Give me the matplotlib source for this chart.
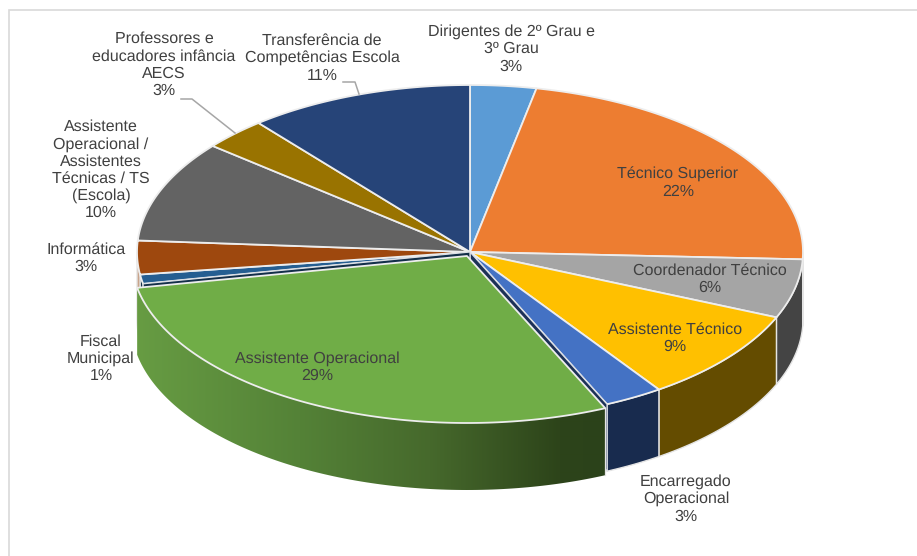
import numpy as np
import matplotlib
matplotlib.use("Agg")
import matplotlib.pyplot as plt
from matplotlib.patches import Polygon, Rectangle
from matplotlib.colors import to_rgb

plt.rcParams['font.family'] = ['Liberation Sans', 'DejaVu Sans']
plt.rcParams['text.hinting'] = 'no_hinting'

categories = ["Dirigentes de 2º Grau e\n3º Grau", "Técnico Superior", "Coordenador Técnico",
              "Assistente Técnico", "Encarregado\nOperacional", "Assistente Operacional",
              "Fiscal\nMunicipal", "Informática",
              "Assistente\nOperacional /\nAssistentes\nTécnicas / TS\n(Escola)",
              "Professores e\neducadores infância\nAECS", "Transferência de\nCompetências Escola"]
values = [3.2, 22.5, 5.7, 9.0, 2.85, 28.7, 0.9, 3.25, 9.85, 3.1, 10.95]
top_colors = ["#5B9BD5", "#ED7D31", "#A5A5A5", "#FFC000", "#4472C4", "#70AD47",
              "#255E91", "#9E480E", "#636363", "#997300", "#264478"]
side_colors = ["#2E4E6B", "#773F19", "#444444", "#644C00", "#182B4E", "#3A5A24",
               "#132F49", "#C9A48B", "#333333", "#4D3A00", "#131F3C"]
label_xy = [(511, 49), (678, 183), (710, 279), (675, 338), (686, 499), (317, 367),
            (101, 359), (86, 258), (101, 170), (164, 65), (322, 58)]

cx, cy, rx, ry, depth = 470, 252, 333, 167, 67
green = 5  # the slice pulled out of the pie
green_ox, green_oy, green_grow = -3, 4, 3

fig = plt.figure(figsize=(9.17, 5.56), dpi=100)
ax = fig.add_axes([0, 0, 1, 1])
ax.axis('off')
ax.add_patch(Rectangle((9, 10), 1000, 1000, fc='white', ec='#D9D9D9', lw=1.2))

angles = 2 * np.pi * np.cumsum([0] + values) / sum(values)


def rim(a0, a1, ox=0, oy=0, grow=0, n=120):
    t = np.linspace(a0, a1, n)
    return cx + ox + (rx + grow) * np.sin(t), cy + oy - ry * np.cos(t)


def wall_points(i, ox=0, oy=0, grow=0):
    # only the part of the wall facing the viewer is visible
    s0, s1 = max(angles[i], np.pi / 2), min(angles[i + 1], 3 * np.pi / 2)
    if s1 <= s0:
        return None
    x, y = rim(s0, s1, ox, oy, grow)
    return np.r_[np.c_[x, y], np.c_[x, y + depth][::-1]]


def draw_top(i, z, ox=0, oy=0, grow=0):
    x, y = rim(angles[i], angles[i + 1], ox, oy, grow)
    pts = np.r_[[[cx + ox, cy + oy]], np.c_[x, y]]
    ax.add_patch(Polygon(pts, fc=top_colors[i], ec='#EDEDED', lw=1.3, joinstyle='round', zorder=z))


for i in range(len(values)):
    if i == green:
        continue
    wall = wall_points(i)
    if wall is not None:
        ax.add_patch(Polygon(wall, fc=side_colors[i], ec='#E4E4E4', lw=1.0, zorder=2))
    draw_top(i, 3)

# cut faces left open next to the pulled-out slice
for a, col in [(angles[green], "#1C3157"), (angles[green + 1], "#132F49")]:
    px, py = cx + rx * np.sin(a), cy - ry * np.cos(a)
    face = [[cx, cy], [px, py], [px, py + depth], [cx, cy + depth]]
    ax.add_patch(Polygon(face, fc=col, ec='#DDE0E6', lw=0.9, zorder=4))

# green wall, shaded along its length
wall = wall_points(green, green_ox, green_oy, green_grow)
clip = Polygon(wall, fc='none', ec='none', zorder=5)
ax.add_patch(clip)
stops_x = [136, 300, 430, 560, 606]
stops_c = np.array([to_rgb(c) for c in ["#679C43", "#548237", "#46692C", "#2D441A", "#2B421A"]])
xs = np.linspace(136, 606, 470)
grad = np.stack([np.interp(xs, stops_x, stops_c[:, k]) for k in range(3)], axis=-1)[np.newaxis, :, :]
im = ax.imshow(grad, extent=(136, 606, 500, 270), aspect='auto', zorder=5, interpolation='bilinear')
im.set_clip_path(clip)
draw_top(green, 6, green_ox, green_oy, green_grow)
ax.plot([wall[0, 0]] * 2, [wall[0, 1], wall[0, 1] + depth], color='#E4E4E4', lw=0.9, zorder=5)

ax.set_xlim(0, 917)
ax.set_ylim(556, 0)

for name, val, (lx, ly) in zip(categories, values, label_xy):
    ax.text(lx, ly, f"{name}\n{val:.0f}%", ha='center', va='center', fontsize=11.5,
            color='#404040', linespacing=1.2, zorder=8)

# leader lines
ax.plot([181, 192, 235], [99, 99, 133], color='#A6A6A6', lw=1.1, zorder=7)
ax.plot([343, 355, 359], [82, 82, 94], color='#A6A6A6', lw=1.1, zorder=7)

fig.savefig("out.png", dpi=100)
